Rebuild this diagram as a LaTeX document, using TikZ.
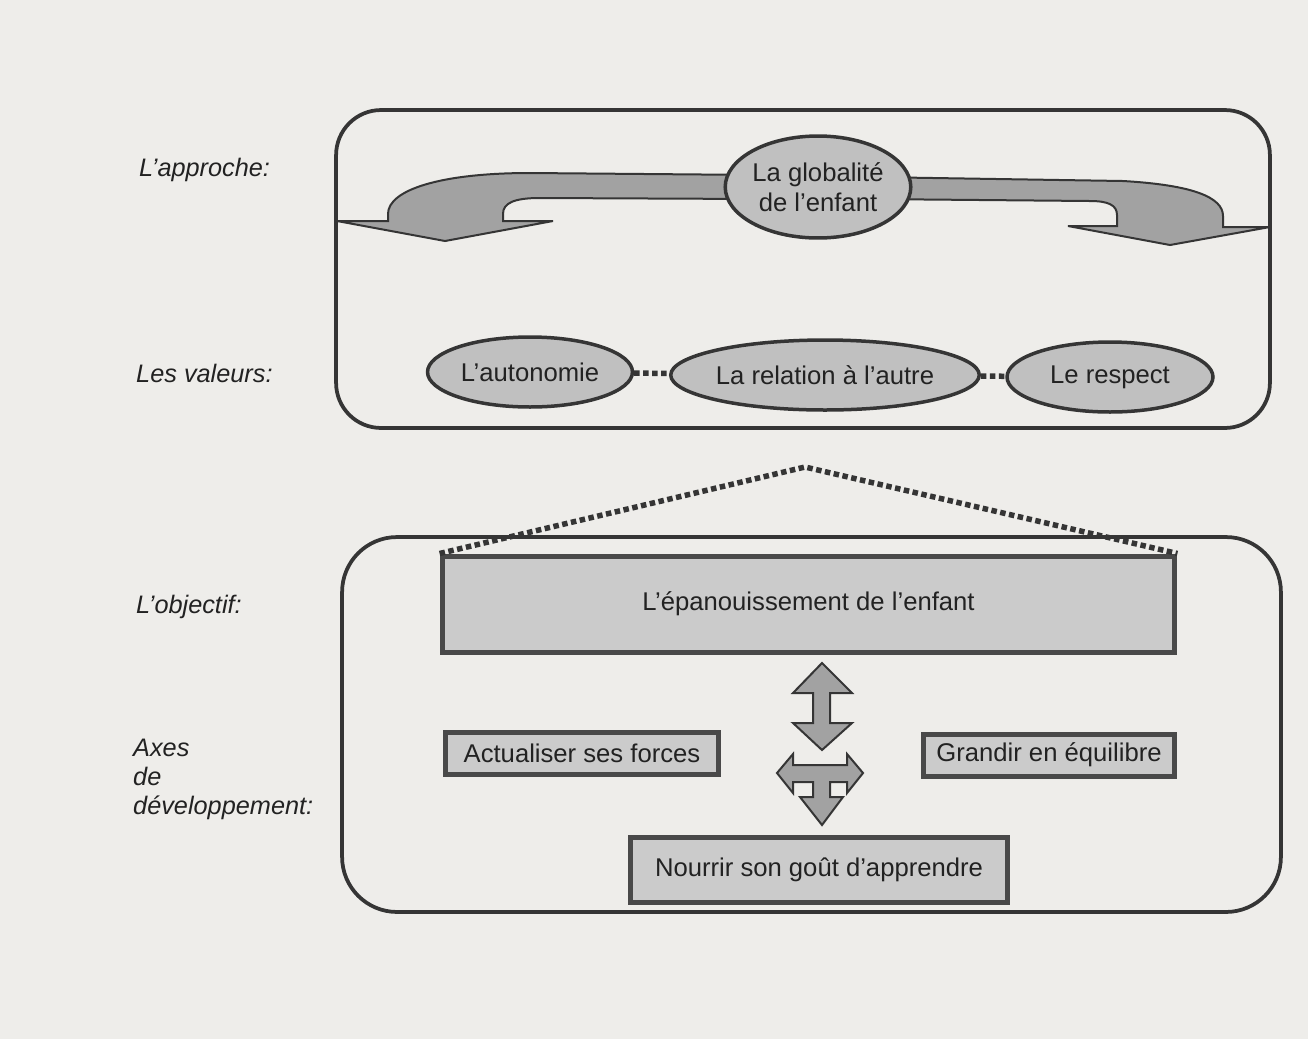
\documentclass[tikz,border=0pt]{standalone}
\usepackage{fontspec}
\setmainfont{Liberation Sans}
\usetikzlibrary{shapes.geometric}
\definecolor{paper}{HTML}{EEEDEA}
\definecolor{ink}{HTML}{222222}
\definecolor{edge}{HTML}{353535}
\definecolor{shadeE}{HTML}{C0C0C0}
\definecolor{shadeR}{HTML}{CBCBCB}
\definecolor{shadeA}{HTML}{A2A2A2}
\begin{document}
\begin{tikzpicture}[x=0.02cm,y=-0.02cm,
  every node/.style={font=\fontsize{14.6}{17}\selectfont, text=ink},
  frame/.style={draw=edge, line width=0.075cm, rounded corners=#1, inner sep=0pt},
  oval/.style={ellipse, draw=edge, fill=shadeE, line width=0.07cm, inner sep=0pt},
  bar/.style={rectangle, draw=edge!90, fill=shadeR, line width=0.1cm, inner sep=0pt},
  fatarrow/.style={draw=edge, fill=shadeA, line width=0.04cm, line join=miter},
  dotline/.style={draw=edge, line width=0.11cm, dash pattern=on 0.11cm off 0.07cm},
  lbl/.style={font=\fontsize{14.4}{16.5}\selectfont\itshape, anchor=west, align=left}
]
\fill[paper] (0,0) rectangle (1308,1039);
\useasboundingbox (0,0) rectangle (1308,1039);

% frames
\node[frame=0.9cm, minimum width=18.68cm, minimum height=6.36cm] (approachframe) at (803,269) {};
\node[frame=1.1cm, minimum width=18.78cm, minimum height=7.5cm] (axesframe) at (811.5,724.5) {};

% side labels
\node[lbl] (lapproche) at (133,170) {L’approche:};
\node[lbl] (lesvaleurs) at (130,373) {Les valeurs:};
\node[lbl] (lobjectif) at (130,607) {L’objectif:};
\node[lbl] (axes) at (127,779) {Axes\\de\\développement:};

% curved arrows from the globality node
\path[fatarrow] (760,175) -- (530,173)
  .. controls (440,173) and (388,190) .. (388,214)
  -- (388,221) -- (337,221) -- (445,241) -- (553,221) -- (503,221)
  -- (503,214) .. controls (503,203) and (514,198) .. (540,198)
  -- (760,199) -- cycle;
\path[fatarrow] (870,177) -- (1123,181)
  .. controls (1192,185) and (1223,197) .. (1223,216)
  -- (1223,227) -- (1270,227) -- (1170,245) -- (1068,226) -- (1117,226)
  -- (1117,215) .. controls (1117,205) and (1108,201) .. (1090,201)
  -- (870,199) -- cycle;

% approach and values
\node[oval, minimum width=3.68cm, minimum height=2.04cm, align=center] (globalite) at (818,187) {La globalité\\de l’enfant};
\node[oval, minimum width=4.1cm, minimum height=1.4cm] (autonomie) at (530,372) {L’autonomie};
\node[oval, minimum width=4.92cm, minimum height=1.4cm] (relation) at (825,375) {La relation à l’autre};
\node[oval, minimum width=4.12cm, minimum height=1.4cm] (respect) at (1110,377) {Le respect};
\draw[dotline] (autonomie) -- (relation);
\draw[dotline] (relation) -- (respect);

% objective and axes
\node[bar, minimum width=14.66cm, minimum height=1.92cm] (epanouissement) at (808.5,604) {L’épanouissement de l’enfant};
\node[bar, minimum width=5.48cm, minimum height=0.84cm] (actualiser) at (582,753) {Actualiser ses forces};
\node[bar, minimum width=5.04cm, minimum height=0.84cm] (grandir) at (1049,755) {Grandir en équilibre};
\node[bar, minimum width=7.54cm, minimum height=1.3cm] (nourrir) at (819,870) {Nourrir son goût d’apprendre};

% roof of dots
\coordinate (peak) at (805,467);
\draw[dotline] (epanouissement.north west) -- (peak) -- (epanouissement.north east);

% cross arrows
\path[fatarrow] (822,663) -- (852,693) -- (830,693) -- (830,723) -- (852,723)
  -- (822,750) -- (793,723) -- (813,723) -- (813,693) -- (793,693) -- cycle;
\path[fatarrow] (777,773) -- (793,754) -- (793,765) -- (847,765) -- (847,754)
  -- (863,773) -- (847,793) -- (847,782) -- (830,782) -- (830,797) -- (843,797)
  -- (822,825) -- (800,797) -- (813,797) -- (813,782) -- (793,782) -- (793,793) -- cycle;
\end{tikzpicture}
\end{document}
